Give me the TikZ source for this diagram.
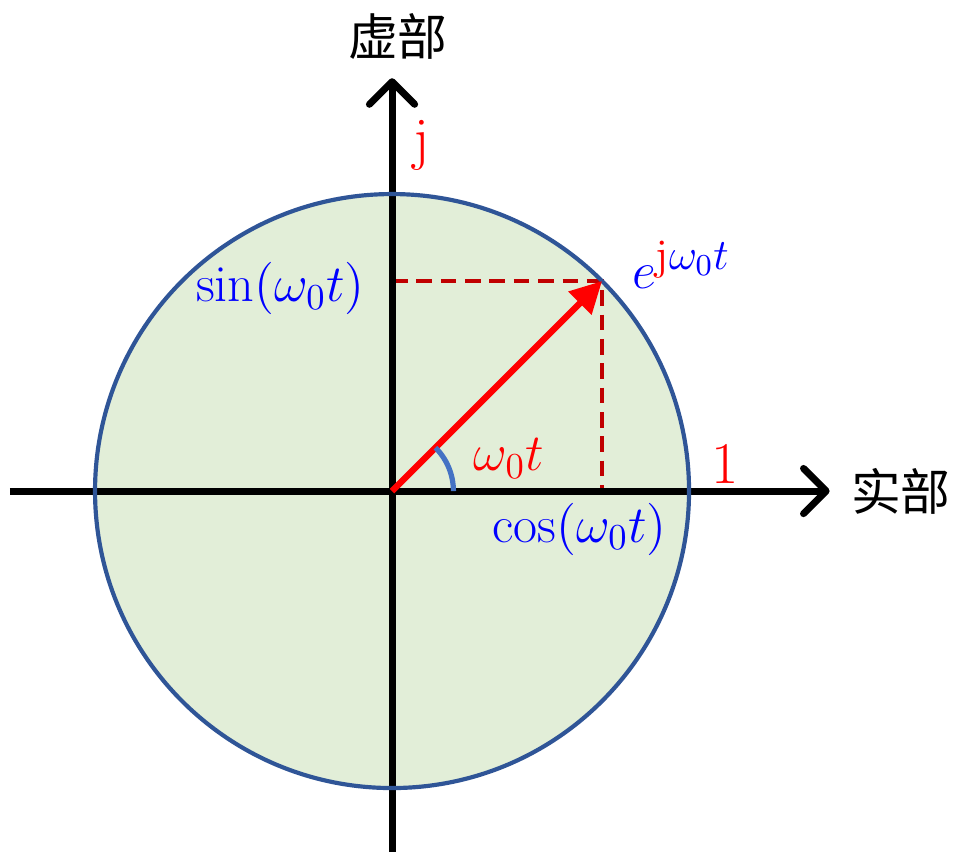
\RequirePackage{fix-cm}
\documentclass[tikz,border=0pt]{standalone}
\usepackage{amsmath}
\usepackage{fontspec}
\newfontfamily\cjk{Noto Sans CJK SC}
\usepackage{tikz}
\usetikzlibrary{arrows.meta, positioning, calc}
\definecolor{discgreen}{RGB}{226, 238, 216}
\definecolor{discblue}{RGB}{47, 85, 151}
\definecolor{dashred}{RGB}{192, 0, 0}
\definecolor{arcblue}{RGB}{68, 114, 196}

\begin{document}
\begin{tikzpicture}[
  axis/.style={line width=2pt, -{Straight Barb[length=6.5pt, width=13pt, round]}},
  guide/.style={dashred, line width=1.2pt, dash pattern=on 4.5pt off 2.5pt},
  lbl/.style={font=\fontsize{15}{18}\selectfont, inner sep=0pt},
  biglbl/.style={font=\fontsize{17}{20}\selectfont, inner sep=0pt},
  cnlbl/.style={font=\cjk\fontsize{14.3}{16}\selectfont, inner sep=0pt}
]
  \useasboundingbox (-3.960, -3.636) rectangle (5.727, 4.960);
  \coordinate (O) at (0, 0);
  \coordinate (P) at (45:3);
  \coordinate (Px) at (P |- O);
  \coordinate (Py) at (P -| O);
  \coordinate (xs) at (-3.86, 0);
  \coordinate (xe) at (4.42, 0);
  \coordinate (ys) at (0, -3.70);
  \coordinate (ye) at (0, 4.17);

  \fill[discgreen] (O) circle (3);
  \draw[guide] (Py) -- (P) -- (Px);
  \draw[axis] (xs) -- (xe);
  \draw[axis] (ys) -- (ye);
  \draw[discblue, line width=1.2pt] (O) circle (3);
  \draw[red, line width=1.8pt, -{Triangle[length=9pt, width=9pt]}] (O) -- (P);
  \draw[arcblue, line width=1.5pt] (0.62, 0) arc (0:45:0.62);

  \node[cnlbl] (imlbl) at (0.06, 4.59) {虚部};
  \node[cnlbl] (relbl) at (5.14, 0) {实部};
  \node[biglbl, red, anchor=base] (jlbl) at (0.30, 3.36) {$\mathrm{j}$};
  \node[biglbl, red, anchor=base] (onelbl) at (3.36, 0.08) {$1$};
  \node[lbl, red, anchor=base west] (anglbl) at (0.82, 0.21) {$\omega_0 t$};
  \node[lbl, blue, anchor=base west] (explbl) at (2.42, 2.05)
    {$e^{\mbox{\fontsize{12.5}{14}\selectfont$\textcolor{red}{\mathrm{j}}\omega_0 t$}}$};
  \node[lbl, blue, anchor=base east] (sinlbl) at (-0.27, 1.91) {$\sin(\omega_0 t)$};
  \node[lbl, blue, anchor=base west] (coslbl) at (1.01, -0.515) {$\cos(\omega_0 t)$};
\end{tikzpicture}
\end{document}
